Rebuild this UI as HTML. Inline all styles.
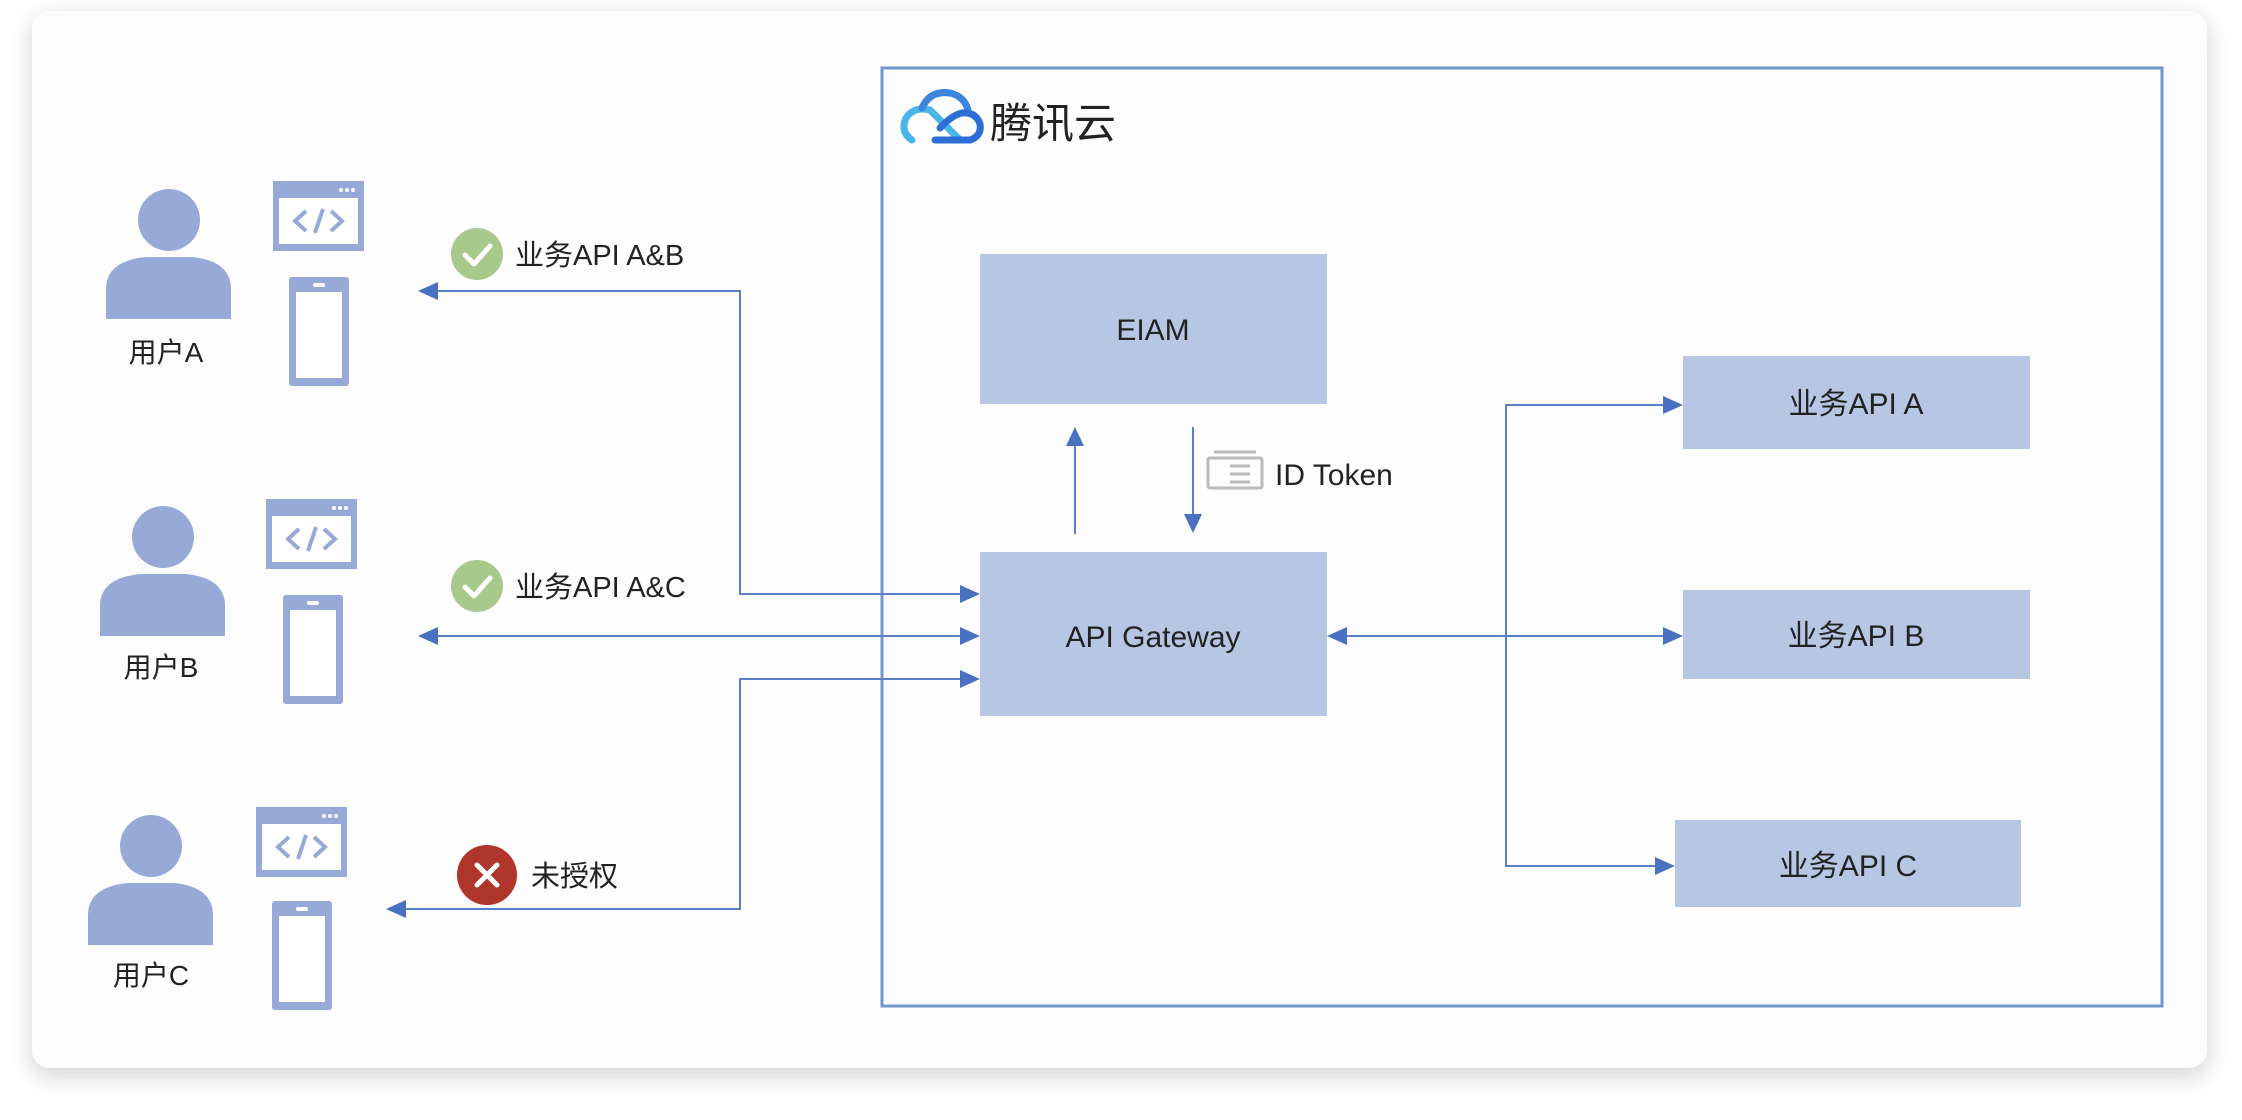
<!DOCTYPE html>
<html><head><meta charset="utf-8"><style>
html,body{margin:0;padding:0;background:#fff;width:2242px;height:1120px;overflow:hidden}
svg{display:block}
text{font-family:"Liberation Sans","Noto Sans CJK SC",sans-serif;fill:#222}
</style></head><body>
<svg width="2242" height="1120" viewBox="0 0 2242 1120" xmlns="http://www.w3.org/2000/svg">
<defs>
<filter id="sh" x="-5%" y="-5%" width="110%" height="115%"><feDropShadow dx="0" dy="8" stdDeviation="12" flood-color="#000" flood-opacity="0.18"/></filter>
<g id="user">
  <circle cx="63" cy="31" r="31" fill="#97a9d6"/>
  <path d="M0 100 Q0 72 40 68 L86 68 Q125 72 125 100 L125 130 L0 130 Z" fill="#97a9d6"/>
</g>
<g id="browser">
  <rect x="0" y="0" width="91" height="70" fill="#97a9d6"/>
  <rect x="6" y="17" width="79" height="46" fill="#fff"/>
  <circle cx="68" cy="9" r="2" fill="#fff"/><circle cx="74" cy="9" r="2" fill="#fff"/><circle cx="80" cy="9" r="2" fill="#fff"/>
  <polyline points="33,30 22,40 33,50" fill="none" stroke="#97a9d6" stroke-width="4"/>
  <polyline points="58,30 69,40 58,50" fill="none" stroke="#97a9d6" stroke-width="4"/>
  <line x1="50" y1="28" x2="42" y2="52" stroke="#97a9d6" stroke-width="4"/>
</g>
<g id="phone">
  <rect x="0" y="0" width="60" height="109" rx="3" fill="#97a9d6"/>
  <rect x="7" y="15" width="46" height="86" fill="#fff"/>
  <rect x="24" y="6" width="12" height="4" rx="2" fill="#fff"/>
</g>
<g id="check">
  <circle cx="0" cy="0" r="26" fill="#a7c98b"/>
  <polyline points="-12,1 -3,10 13,-8" fill="none" stroke="#fff" stroke-width="5" stroke-linecap="round" stroke-linejoin="round"/>
</g>
</defs>

<rect x="32" y="11" width="2175" height="1057" rx="18" fill="#fdfdfd" filter="url(#sh)"/>

<rect x="882" y="68" width="1280" height="938" fill="none" stroke="#7196cf" stroke-width="3"/>

<!-- logo -->
<g fill="none" stroke-width="7" stroke-linecap="round">
  <path d="M912 140 Q900 132 906 118 Q914 106 930 110 L960 140" stroke="#49b6e9"/>
  <path d="M922 108 Q930 90 950 93 Q964 96 968 110" stroke="#3d86e0"/>
  <path d="M935 140 L970 140 Q982 136 980 124 Q976 112 962 113 Q952 115 940 128" stroke="#2d6fd6"/>
</g>
<text x="990" y="138" font-size="42">腾讯云</text>

<!-- boxes -->
<rect x="980" y="254" width="347" height="150" fill="#b7c6e3"/>
<text x="1153" y="340" font-size="30" text-anchor="middle">EIAM</text>
<rect x="980" y="552" width="347" height="164" fill="#b7c6e3"/>
<text x="1153" y="647" font-size="30" text-anchor="middle">API Gateway</text>
<rect x="1683" y="356" width="347" height="93" fill="#b7c6e3"/>
<text x="1856" y="414" font-size="30" text-anchor="middle">业务API A</text>
<rect x="1683" y="590" width="347" height="89" fill="#b7c6e3"/>
<text x="1856" y="646" font-size="30" text-anchor="middle">业务API B</text>
<rect x="1675" y="820" width="346" height="87" fill="#b7c6e3"/>
<text x="1848" y="876" font-size="30" text-anchor="middle">业务API C</text>

<!-- connectors -->
<g stroke="#5a7fc6" stroke-width="2" fill="none">
  <line x1="1075" y1="534" x2="1075" y2="440"/>
  <line x1="1193" y1="427" x2="1193" y2="518"/>
  <polyline points="432,291 740,291 740,594 966,594"/>
  <line x1="432" y1="636" x2="966" y2="636"/>
  <polyline points="966,679 740,679 740,909 400,909"/>
  <line x1="1341" y1="636" x2="1669" y2="636"/>
  <polyline points="1669,405 1506,405 1506,866 1661,866"/>
</g>
<g fill="#4a70c0">
  <polygon points="1075,427 1066,446 1084,446"/>
  <polygon points="1193,533 1184,514 1202,514"/>
  <polygon points="418,291 438,282 438,300"/>
  <polygon points="418,636 438,627 438,645"/>
  <polygon points="386,909 406,900 406,918"/>
  <polygon points="980,594 960,585 960,603"/>
  <polygon points="980,636 960,627 960,645"/>
  <polygon points="980,679 960,670 960,688"/>
  <polygon points="1327,636 1347,627 1347,645"/>
  <polygon points="1683,636 1663,627 1663,645"/>
  <polygon points="1683,405 1663,396 1663,414"/>
  <polygon points="1675,866 1655,857 1655,875"/>
</g>

<!-- ID token -->
<g fill="none" stroke="#bbb" stroke-width="3">
  <rect x="1208" y="458" width="54" height="30" rx="2"/>
  <line x1="1214" y1="452" x2="1256" y2="452"/>
  <line x1="1230" y1="466" x2="1250" y2="466"/><line x1="1230" y1="474" x2="1250" y2="474"/><line x1="1230" y1="482" x2="1250" y2="482"/>
</g>
<text x="1275" y="485" font-size="30">ID Token</text>

<!-- users -->
<use href="#user" x="106" y="189"/>
<text x="166" y="362" font-size="28" text-anchor="middle">用户A</text>
<use href="#browser" x="273" y="181"/>
<use href="#phone" x="289" y="277"/>

<use href="#user" x="100" y="506"/>
<text x="161" y="677" font-size="28" text-anchor="middle">用户B</text>
<use href="#browser" x="266" y="499"/>
<use href="#phone" x="283" y="595"/>

<use href="#user" x="88" y="815"/>
<text x="151" y="985" font-size="28" text-anchor="middle">用户C</text>
<use href="#browser" x="256" y="807"/>
<use href="#phone" x="272" y="901"/>

<!-- labels -->
<use href="#check" x="477" y="254"/>
<text x="515" y="265" font-size="29">业务API A&amp;B</text>
<use href="#check" x="477" y="586"/>
<text x="515" y="597" font-size="29">业务API A&amp;C</text>
<circle cx="487" cy="875" r="30" fill="#b0362b"/>
<g stroke="#fff" stroke-width="5" stroke-linecap="round"><line x1="477" y1="865" x2="497" y2="885"/><line x1="497" y1="865" x2="477" y2="885"/></g>
<text x="531" y="886" font-size="29">未授权</text>
</svg>
</body></html>
